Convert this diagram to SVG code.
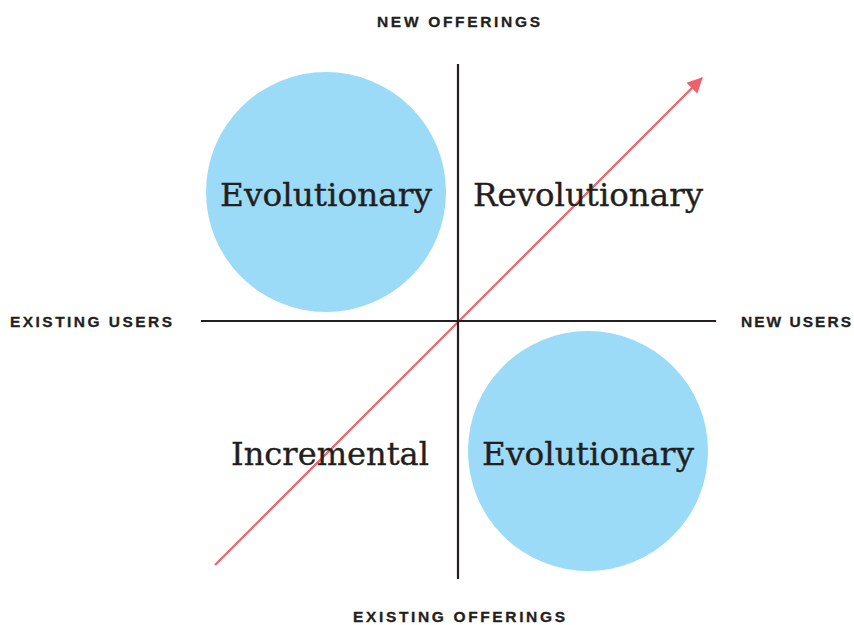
<svg xmlns="http://www.w3.org/2000/svg" width="854" height="625" viewBox="0 0 854 625">
<style>
.axis{fill:#231f20;stroke:#231f20;stroke-width:0.3;font-family:"Liberation Sans",Arial,sans-serif;font-weight:bold;font-size:15.5px}
.q{fill:#231f20;stroke:#231f20;stroke-width:0.35;font-family:"DejaVu Serif","Liberation Serif",serif;font-size:32px;text-anchor:middle}
.blob{fill:#9cdbf7}
.ax{stroke:#231f20;stroke-width:2.2;fill:none}
</style>
<defs>
<marker id="ah" markerWidth="7" markerHeight="7" refX="6.5" refY="3.5" orient="auto" markerUnits="strokeWidth">
<path d="M0,0 L7,3.5 L0,7 z" fill="#f0606a"/>
</marker>
</defs>
<rect width="854" height="625" fill="#fff"/>
<g id="circle-top-left"><circle class="blob" cx="326" cy="192" r="120"/></g>
<g id="circle-bottom-right"><circle class="blob" cx="588" cy="451" r="120"/></g>
<g id="connectors">
<line x1="215" y1="565" x2="702" y2="78" stroke="#f0606a" stroke-width="2.2" marker-end="url(#ah)"/>
<line class="ax" x1="458" y1="64" x2="458" y2="579"/>
<line class="ax" x1="201" y1="321" x2="716" y2="321"/>
</g>
<g id="label-evolutionary-top"><text class="q" x="326" y="206" textLength="212" lengthAdjust="spacingAndGlyphs">Evolutionary</text></g>
<g id="label-revolutionary"><text class="q" x="588" y="206" textLength="230" lengthAdjust="spacingAndGlyphs">Revolutionary</text></g>
<g id="label-incremental"><text class="q" x="330" y="465" textLength="198" lengthAdjust="spacingAndGlyphs">Incremental</text></g>
<g id="label-evolutionary-bottom"><text class="q" x="588" y="465" textLength="212" lengthAdjust="spacingAndGlyphs">Evolutionary</text></g>
<g id="axis-new-offerings"><text class="axis" x="377" y="27" textLength="163" lengthAdjust="spacing">NEW OFFERINGS</text></g>
<g id="axis-existing-users"><text class="axis" x="10" y="327" textLength="162" lengthAdjust="spacing">EXISTING USERS</text></g>
<g id="axis-new-users"><text class="axis" x="741" y="327" textLength="110" lengthAdjust="spacing">NEW USERS</text></g>
<g id="axis-existing-offerings"><text class="axis" x="353" y="622" textLength="212" lengthAdjust="spacing">EXISTING OFFERINGS</text></g>
</svg>
